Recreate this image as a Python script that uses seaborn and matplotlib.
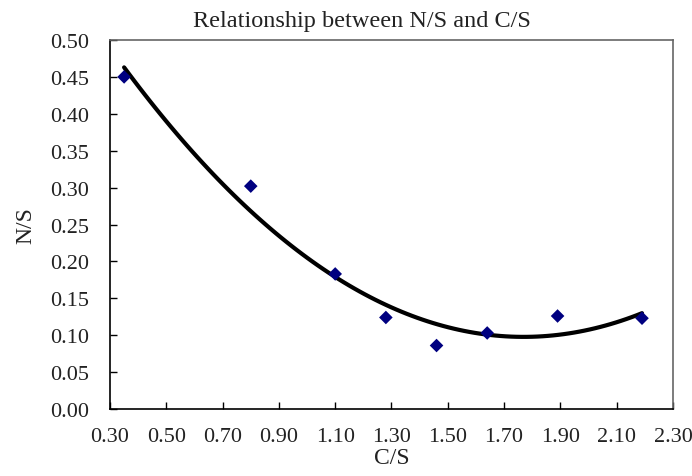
import matplotlib
matplotlib.use("Agg")
import matplotlib.pyplot as plt
import seaborn as sns
import numpy as np
import pandas as pd

cs = [0.35, 0.80, 1.10, 1.28, 1.46, 1.64, 1.89, 2.19]
ns = [0.450, 0.302, 0.183, 0.124, 0.086, 0.103, 0.126, 0.123]
xticks = [0.30, 0.50, 0.70, 0.90, 1.10, 1.30, 1.50, 1.70, 1.90, 2.10, 2.30]
yticks = [0.00, 0.05, 0.10, 0.15, 0.20, 0.25, 0.30, 0.35, 0.40, 0.45, 0.50]

df = pd.DataFrame({"C/S": cs, "N/S": ns})

sns.set_theme(style="white", rc={"xtick.bottom": True, "ytick.left": True,
                                 "xtick.direction": "in", "ytick.direction": "in"})
plt.rcParams['font.family'] = ['Liberation Serif', 'DejaVu Serif']

fig = plt.figure(figsize=(6.92, 4.77), dpi=100)
ax = fig.add_axes([0.159, 0.1405, 0.9725 - 0.159, 0.914 - 0.1405])

sns.regplot(data=df, x="C/S", y="N/S", order=2, ci=None, ax=ax,
            scatter=False, line_kws=dict(color="black", lw=3.0))
sns.scatterplot(data=df, x="C/S", y="N/S", ax=ax, marker="D", s=48,
                color="#000080", edgecolor="none", zorder=3)

ax.set_xlim(0.30, 2.30)
ax.set_ylim(0.0, 0.50)
ax.set_xticks(xticks)
ax.set_yticks(yticks)
ax.set_xticklabels([f"{v:.2f}" for v in xticks])
ax.set_yticklabels([f"{v:.2f}" for v in yticks])
ax.tick_params(axis="both", which="major", bottom=True, left=True, top=False, right=False,
               direction="in", length=5, width=1, color="black",
               labelsize=16, labelcolor="#222222")
ax.tick_params(axis="x", pad=13)
ax.tick_params(axis="y", pad=15)
for side in ["left", "bottom"]:
    ax.spines[side].set_color("black")
    ax.spines[side].set_linewidth(1.2)
for side in ["top", "right"]:
    ax.spines[side].set_color("#666666")
    ax.spines[side].set_linewidth(1.2)
    ax.spines[side].set_visible(True)

ax.set_title("Relationship between N/S and C/S", fontsize=17.5, color="#222222", pad=10, x=0.448)
ax.set_xlabel("C/S", fontsize=17, color="#222222", labelpad=1)
ax.set_ylabel("N/S", fontsize=17, color="#222222", labelpad=10)

fig.savefig("out.png", dpi=100)
